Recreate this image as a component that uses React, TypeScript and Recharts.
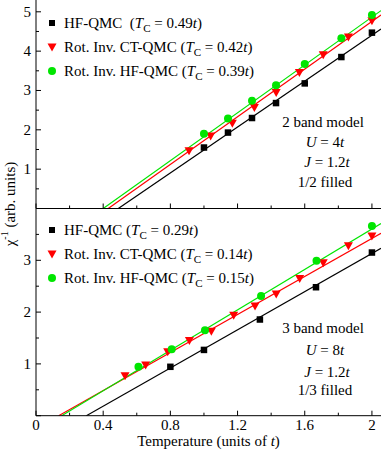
import React from 'react';
import { ComposedChart, Scatter, Line, XAxis, YAxis, Legend, Label } from 'recharts';

const FONT = '"Liberation Serif", "Times New Roman", Times, serif';
const BLACK = '#000000';
const RED = '#ff0000';
const GREEN = '#00e600';
const COLORS = [BLACK, RED, GREEN];

// ---- legend text ----
const seriesNames = ['HF-QMC', 'Rot. Inv. CT-QMC', 'Rot. Inv. HF-QMC'];
const topTc = ['0.49', '0.42', '0.39'];
const bottomTc = ['0.29', '0.14', '0.15'];

// ---- ticks ----
const xTicks = [0, 0.2, 0.4, 0.6, 0.8, 1.0, 1.2, 1.4, 1.6, 1.8, 2.0];
const xTickLabels = ['0', '', '0.4', '', '0.8', '', '1.2', '', '1.6', '', '2'];
const topYTicks = [0, 0.5, 1, 1.5, 2, 2.5, 3, 3.5, 4, 4.5, 5];
const topYLabels = ['', '', '1', '', '2', '', '3', '', '4', '', '5'];
const bottomYTicks = [0, 0.5, 1, 1.5, 2, 2.5, 3, 3.5];
const bottomYLabels = ['', '', '1', '', '2', '', '3', ''];

// ---- top panel: 2 band model ----
const topHfT = [1.0, 1.143, 1.286, 1.429, 1.6, 1.818, 2.0];
const topHfChi = [1.55, 1.93, 2.3, 2.68, 3.18, 3.85, 4.47];
const topCtT = [0.911, 1.04, 1.169, 1.3, 1.43, 1.568, 1.71, 1.86, 2.0];
const topCtChi = [1.47, 1.84, 2.17, 2.57, 2.95, 3.46, 3.91, 4.36, 4.77];
const topRiT = [1.0, 1.143, 1.286, 1.429, 1.6, 1.818, 2.0];
const topRiChi = [1.9, 2.29, 2.74, 3.13, 3.67, 4.33, 4.92];
const topHfFitT = [0.49, 2.054];
const topHfFitChi = [0, 4.56];
const topCtFitT = [0.43, 2.054];
const topCtFitChi = [0, 4.92];
const topRiFitT = [0.4, 2.054];
const topRiFitChi = [0, 5.03];

// ---- bottom panel: 3 band model ----
const botHfT = [0.8, 1.0, 1.333, 1.667, 2.0];
const botHfChi = [0.944, 1.27, 1.857, 2.48, 3.15];
const botCtT = [0.53, 0.653, 0.784, 0.913, 1.044, 1.177, 1.304, 1.43, 1.57, 1.71, 1.86, 2.0];
const botCtChi = [0.77, 0.977, 1.233, 1.45, 1.632, 1.94, 2.12, 2.35, 2.65, 2.955, 3.28, 3.47];
const botRiT = [0.61, 0.808, 1.006, 1.34, 1.67, 2.0];
const botRiChi = [0.944, 1.285, 1.65, 2.31, 2.99, 3.66];
const botHfFitT = [0.3, 2.054];
const botHfFitChi = [0, 3.23];
const botCtFitT = [0.135, 2.054];
const botCtFitChi = [0, 3.52];
const botRiFitT = [0.153, 2.054];
const botRiFitChi = [0, 3.71];

const zip = (xs: number[], ys: number[]) => xs.map((x, i) => ({ x, y: ys[i] }));

const X_DOMAIN: [number, number] = [0, 2.054];

const findIdx = (arr: number[], v: number) => arr.findIndex((a) => Math.abs(a - v) < 1e-6);

const xTickFactory = (side: 'bottom' | 'top', showLabels: boolean) => (props: any) => {
  const { x, y, payload } = props;
  const i = findIdx(xTicks, payload.value);
  const lbl = i >= 0 ? xTickLabels[i] : '';
  const major = lbl !== '';
  const len = major ? 5 : 3;
  const dir = side === 'bottom' ? -1 : 1;
  return (
    <g>
      <line x1={x} y1={y} x2={x} y2={y + dir * len} stroke={BLACK} strokeWidth={1} />
      {showLabels && major && (
        <text x={x} y={y + 14} textAnchor="middle" fontFamily={FONT} fontSize={15} fill={BLACK}>
          {lbl}
        </text>
      )}
    </g>
  );
};

const yTickFactory = (side: 'left' | 'right', ticks: number[], labels: string[]) => (props: any) => {
  const { x, y, payload } = props;
  const i = findIdx(ticks, payload.value);
  const v = payload.value;
  const major = Math.abs(v - Math.round(v)) < 1e-6;
  const len = major ? 5 : 3;
  const dir = side === 'left' ? 1 : -1;
  const lbl = i >= 0 ? labels[i] : '';
  return (
    <g>
      <line x1={x} y1={y} x2={x + dir * len} y2={y} stroke={BLACK} strokeWidth={1} />
      {side === 'left' && lbl !== '' && (
        <text x={x - 5} y={y + 5} textAnchor="end" fontFamily={FONT} fontSize={15} fill={BLACK}>
          {lbl}
        </text>
      )}
    </g>
  );
};

const SquareShape = (props: any) => {
  const { cx, cy } = props;
  return <rect x={cx - 3.25} y={cy - 3.25} width={6.5} height={6.5} fill={BLACK} />;
};
const TriangleShape = (props: any) => {
  const { cx, cy } = props;
  return (
    <polygon
      points={`${cx - 4.5},${cy - 3.5} ${cx + 4.5},${cy - 3.5} ${cx},${cy + 4.5}`}
      fill={RED}
    />
  );
};
const CircleShape = (props: any) => {
  const { cx, cy } = props;
  return <circle cx={cx} cy={cy} r={4} fill={GREEN} />;
};
const SHAPES = [SquareShape, TriangleShape, CircleShape];

const LegendSvg = ({ tcs, extraGap }: { tcs: string[]; extraGap: boolean }) => (
  <svg width={260} height={74} style={{ display: 'block' }}>
    {seriesNames.map((name, i) => {
      const cy = 12 + 24 * i;
      return (
        <g key={name}>
          {i === 0 && <rect x={9} y={cy - 3} width={6} height={6} fill={COLORS[i]} />}
          {i === 1 && (
            <polygon points={`7.5,${cy - 3.5} 16.5,${cy - 3.5} 12,${cy + 4.5}`} fill={COLORS[i]} />
          )}
          {i === 2 && <circle cx={12} cy={cy} r={4} fill={COLORS[i]} />}
          <text x={24} y={cy + 5} fontFamily={FONT} fontSize={15} fill={BLACK}>
            {name}
            {extraGap && i === 0 ? '\u00a0' : ''} (<tspan fontStyle="italic">T</tspan>
            <tspan dy={4} fontSize={11}>C</tspan>
            <tspan dy={-4}>{` = ${tcs[i]}`}</tspan>
            <tspan fontStyle="italic">t</tspan>)
          </text>
        </g>
      );
    })}
  </svg>
);

type PanelProps = {
  height: number;
  marginTop: number;
  xAxisHeight: number;
  yDomain: [number, number];
  yTicks: number[];
  yLabels: string[];
  points: { x: number; y: number }[][];
  fits: { x: number; y: number }[][];
  tcs: string[];
  extraGap: boolean;
  legendTop: number;
  overlay: React.ReactNode;
  showXLabels: boolean;
};

const Panel = (p: PanelProps) => (
  <ComposedChart
    width={382}
    height={p.height}
    margin={{ top: p.marginTop, right: 1, bottom: 0, left: 0 }}
  >
    <XAxis
      xAxisId="b"
      dataKey="x"
      type="number"
      orientation="bottom"
      domain={X_DOMAIN}
      allowDataOverflow
      ticks={xTicks}
      interval={0}
      height={p.xAxisHeight}
      tickSize={0}
      tickMargin={0}
      tickLine={false}
      axisLine={{ stroke: BLACK, strokeWidth: 1 }}
      tick={xTickFactory('bottom', p.showXLabels)}
    >
      {p.showXLabels && (
        <Label
          content={() => (
            <text x={208.5} y={446} textAnchor="middle" fontFamily={FONT} fontSize={15} fill={BLACK}>
              Temperature (units of <tspan fontStyle="italic">t</tspan>)
            </text>
          )}
        />
      )}
    </XAxis>
    <XAxis
      xAxisId="t"
      dataKey="x"
      type="number"
      orientation="top"
      domain={X_DOMAIN}
      allowDataOverflow
      ticks={xTicks}
      interval={0}
      height={0}
      tickSize={0}
      tickMargin={0}
      tickLine={false}
      axisLine={{ stroke: BLACK, strokeWidth: 1 }}
      tick={xTickFactory('top', false)}
    />
    <YAxis
      yAxisId="l"
      dataKey="y"
      type="number"
      orientation="left"
      domain={p.yDomain}
      allowDataOverflow
      ticks={p.yTicks}
      interval={0}
      width={36}
      tickSize={0}
      tickMargin={0}
      tickLine={false}
      axisLine={{ stroke: BLACK, strokeWidth: 1 }}
      tick={yTickFactory('left', p.yTicks, p.yLabels)}
    >
      <Label content={() => p.overlay} />
    </YAxis>
    <YAxis
      yAxisId="r"
      dataKey="y"
      type="number"
      orientation="right"
      domain={p.yDomain}
      allowDataOverflow
      ticks={p.yTicks}
      interval={0}
      width={0}
      tickSize={0}
      tickMargin={0}
      tickLine={false}
      axisLine={{ stroke: BLACK, strokeWidth: 1 }}
      tick={yTickFactory('right', p.yTicks, p.yLabels)}
    />
    {p.fits.map((f, i) => (
      <Line
        key={`fit${i}`}
        data={f}
        dataKey="y"
        xAxisId="b"
        yAxisId="l"
        type="linear"
        stroke={COLORS[i]}
        strokeWidth={1.2}
        dot={false}
        activeDot={false}
        isAnimationActive={false}
        legendType="none"
      />
    ))}
    {p.points.map((d, i) => (
      <Scatter
        key={`pts${i}`}
        data={d}
        xAxisId="b"
        yAxisId="l"
        fill={COLORS[i]}
        shape={SHAPES[i]}
        isAnimationActive={false}
      />
    ))}
    <Legend
      layout="horizontal"
      verticalAlign="middle"
      align="center"
      wrapperStyle={{ left: 40, top: p.legendTop, width: 'auto', height: 'auto' }}
      content={() => <LegendSvg tcs={p.tcs} extraGap={p.extraGap} />}
    />
  </ComposedChart>
);

const annotStyle = { fontFamily: FONT, fontSize: 15, fill: BLACK };

const topOverlay = (
  <g>
    <text x={323} y={126.5} textAnchor="middle" {...annotStyle}>2 band model</text>
    <text x={325} y={146.5} textAnchor="middle" {...annotStyle}>
      <tspan fontStyle="italic">U</tspan> = 4<tspan fontStyle="italic">t</tspan>
    </text>
    <text x={327} y={166.5} textAnchor="middle" {...annotStyle}>
      <tspan fontStyle="italic">J</tspan> = 1.2<tspan fontStyle="italic">t</tspan>
    </text>
    <text x={325} y={186.5} textAnchor="middle" {...annotStyle}>1/2 filled</text>
  </g>
);

const bottomOverlay = (
  <g>
    <text x={323} y={333} textAnchor="middle" {...annotStyle}>3 band model</text>
    <text x={325} y={355} textAnchor="middle" {...annotStyle}>
      <tspan fontStyle="italic">U</tspan> = 8<tspan fontStyle="italic">t</tspan>
    </text>
    <text x={327} y={376.5} textAnchor="middle" {...annotStyle}>
      <tspan fontStyle="italic">J</tspan> = 1.2<tspan fontStyle="italic">t</tspan>
    </text>
    <text x={325} y={395} textAnchor="middle" {...annotStyle}>1/3 filled</text>
    <text
      x={10}
      y={204}
      transform="rotate(-90 10 204)"
      textAnchor="middle"
      dominantBaseline="central"
      fontFamily={FONT}
      fontSize={15}
      fill={BLACK}
    >
      <tspan>χ</tspan>
      <tspan dy={-6} fontSize={10}>-1</tspan>
      <tspan dy={6}> (arb. units)</tspan>
    </text>
  </g>
);

export default function App() {
  return (
    <div style={{ position: 'absolute', left: 0, top: 0, width: 382, height: 455, background: '#fff' }}>
      <div style={{ position: 'absolute', left: 0, top: 0 }}>
        <Panel
          height={209}
          marginTop={0}
          xAxisHeight={0.5}
          yDomain={[0, 5.3]}
          yTicks={topYTicks}
          yLabels={topYLabels}
          points={[zip(topHfT, topHfChi), zip(topCtT, topCtChi), zip(topRiT, topRiChi)]}
          fits={[zip(topHfFitT, topHfFitChi), zip(topCtFitT, topCtFitChi), zip(topRiFitT, topRiFitChi)]}
          tcs={topTc}
          extraGap={true}
          legendTop={11}
          overlay={topOverlay}
          showXLabels={false}
        />
      </div>
      <div style={{ position: 'absolute', left: 0, top: 0 }}>
        <Panel
          height={455}
          marginTop={208.5}
          xAxisHeight={39.3}
          yDomain={[0, 4]}
          yTicks={bottomYTicks}
          yLabels={bottomYLabels}
          points={[zip(botHfT, botHfChi), zip(botCtT, botCtChi), zip(botRiT, botRiChi)]}
          fits={[zip(botHfFitT, botHfFitChi), zip(botCtFitT, botCtFitChi), zip(botRiFitT, botRiFitChi)]}
          tcs={bottomTc}
          extraGap={false}
          legendTop={217.5}
          overlay={bottomOverlay}
          showXLabels={true}
        />
      </div>
    </div>
  );
}
